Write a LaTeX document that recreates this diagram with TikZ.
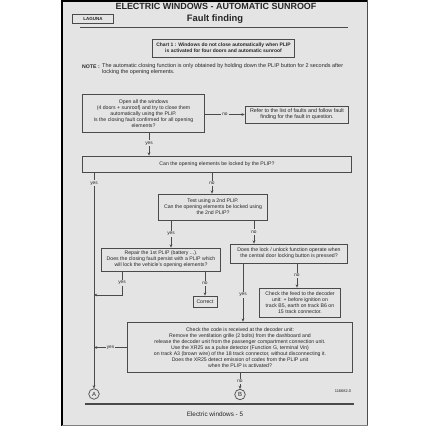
\documentclass[tikz,border=0pt]{standalone}
\usepackage{fontspec}
\setmainfont{Liberation Sans}
\usetikzlibrary{arrows.meta}
\definecolor{pagebg}{HTML}{E4E4E4}
\definecolor{ink}{HTML}{262626}
\definecolor{boxline}{HTML}{4A4A4A}
\begin{document}
\begin{tikzpicture}[x=1bp,y=-1bp,
  box/.style={draw=boxline,line width=0.9bp,align=center,text=ink,
    font=\fontsize{5.2}{6.1}\selectfont,inner sep=0pt},
  conn/.style={draw=boxline,line width=0.65bp,-{Stealth[length=3.2bp,width=2.8bp]}},
  lbl/.style={fill=pagebg,text=ink,font=\fontsize{4.8}{5.5}\selectfont,inner sep=1.2bp},
  circ/.style={circle,draw=boxline,line width=0.7bp,minimum size=10.5bp,inner sep=0pt,
    text=ink,font=\fontsize{6}{6}\selectfont},
  txt/.style={text=ink,inner sep=0pt}
]
\useasboundingbox (0,0) rectangle (428,428);
\fill[white] (0,0) rectangle (428,428);
\fill[pagebg] (62,0) rectangle (368,426);
\draw[black,line width=2bp] (62,0) -- (62,426);
\draw[black,line width=2bp] (62,1) -- (368,1);
\draw[gray!60!black,line width=0.8bp] (367.5,0) -- (367.5,426);
\draw[gray,line width=0.6bp] (62,425.5) -- (368,425.5);

% header
\node[txt,font=\fontsize{9}{9}\selectfont\bfseries] (title) at (216,6.5) {ELECTRIC WINDOWS - AUTOMATIC SUNROOF};
\node[txt,font=\fontsize{9.4}{9.4}\selectfont\bfseries] (ff) at (215,19.5) {Fault finding};
\node[box,minimum width=42,minimum height=9,font=\fontsize{4.5}{4.5}\selectfont\bfseries] (laguna) at (93,18.5) {LAGUNA};
\draw[boxline,line width=1.2bp] (80,27.5) -- (348,27.5);

\node[box,minimum width=143,minimum height=18,font=\fontsize{5}{6}\selectfont\bfseries] (chart) at (223.5,48)
  {Chart 1 : Windows do not close automatically when PLIP\\is activated for four doors and automatic sunroof};

\node[txt,anchor=west,font=\fontsize{5.2}{5.5}\selectfont\bfseries] (note) at (82,66.5) {NOTE :};
\node[txt,anchor=west,font=\fontsize{5.5}{5.5}\selectfont] (notea) at (102,66.5) {The automatic closing function is only obtained by holding down the PLIP button  for 2 seconds after};
\node[txt,anchor=west,font=\fontsize{5.5}{5.5}\selectfont] (noteb) at (102,72.5) {locking the opening elements.};

% boxes
\node[box,minimum width=123,minimum height=39] (b1) at (143.5,113.5)
  {Open all the windows\\(4 doors + sunroof) and try to close them\\automatically using the PLIP.\\Is the closing fault confirmed for all opening\\elements?};
\node[box,minimum width=104,minimum height=17,font=\fontsize{5.4}{6.2}\selectfont] (b2) at (297,114.5)
  {Refer to the list of faults and follow fault\\finding for the fault in question.};
\node[box,minimum width=270,minimum height=16] (b3) at (217,164)
  {Can the opening elements be locked by the PLIP?};
\node[box,minimum width=110,minimum height=26] (b4) at (213,207)
  {Test using a 2nd PLIP.\\Can the opening elements be locked using\\the 2nd PLIP?};
\node[box,minimum width=120,minimum height=23] (b5) at (161,259.5)
  {Repair the 1st PLIP (battery ...).\\Does the closing fault persist with a PLIP which\\will lock the vehicle's opening elements?};
\node[box,minimum width=118,minimum height=19] (b6) at (289,253.5)
  {Does the lock / unlock function operate when\\the central door locking button is pressed?};
\node[box,minimum width=24,minimum height=11] (correct) at (205,301.5) {Correct};
\node[box,minimum width=82,minimum height=30] (b7) at (300,303)
  {Check the feed to the decoder\\unit:  + before ignition on\\track B5, earth on track B6 on\\15 track connector.};
\node[box,minimum width=226,minimum height=51] (b8) at (240,347.5)
  {Check the code is received at the decoder unit:\\Remove the ventilation grille (2 bolts) from the dashboard and\\release the decoder unit from the passenger compartment connection unit.\\Use the XR25 as a pulse detector (Function G, terminal Vin)\\on track A3 (brown wire) of the 18 track connector, without disconnecting it.\\Does the XR25 detect emission of codes from the PLIP unit\\when the PLIP is activated?};

\node[circ] (A) at (94,394) {A};
\node[circ] (B) at (240,394.5) {B};
\node[txt,font=\fontsize{4}{4}\selectfont] (code) at (343,391) {116682.0};

\draw[boxline,line width=1.2bp] (85,404) -- (354,404);
\node[txt,font=\fontsize{6.4}{6.4}\selectfont] (foot) at (215,414) {Electric windows - 5};

% junction points
\coordinate (jA1) at (94,295);
\coordinate (jA2) at (94,0 |- b8.west);

% connectors
\draw[conn] (b1.east |- b2.west) -- node[lbl]{no} (b2.west);
\draw[conn] (149,0 |- b1.south) -- node[lbl,pos=0.45]{yes} (149,0 |- b3.north);
\draw[conn] (94,0 |- b3.south) -- node[lbl,pos=0.05]{yes} (A.north);
\draw[conn] (212,0 |- b3.south) -- node[lbl]{no} (212,0 |- b4.north);
\draw[conn] (171,0 |- b4.south) -- node[lbl]{yes} (171,0 |- b5.north);
\draw[conn] (254,0 |- b4.south) -- node[lbl]{no} (254,0 |- b6.north);
\draw[conn] (122,0 |- b5.south) -- node[lbl]{yes} (122,0 |- jA1) -- (jA1);
\draw[conn] (205,0 |- b5.south) -- node[lbl]{no} (correct.north);
\draw[conn] (243,0 |- b6.south) -- node[lbl,pos=0.54]{yes} (243,0 |- b8.north);
\draw[conn] (297,0 |- b6.south) -- node[lbl]{no} (297,0 |- b7.north);
\draw[conn] (b8.west) -- node[lbl]{yes} (jA2);
\draw[conn] (B |- b8.south) -- node[lbl]{no} (B.north);
\end{tikzpicture}
\end{document}
